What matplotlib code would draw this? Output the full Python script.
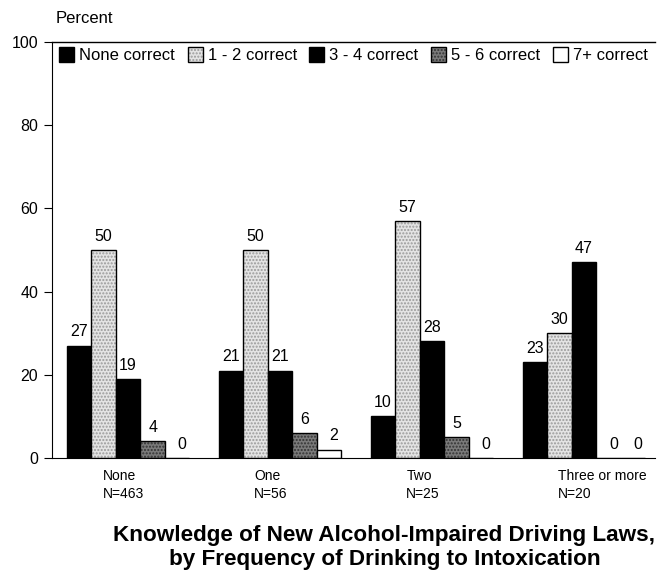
import numpy as np
import matplotlib.pyplot as plt

plt.rcParams['font.family'] = ['Liberation Sans', 'DejaVu Sans']

groups = ['None\nN=463', 'One\nN=56', 'Two\nN=25', 'Three or more\nN=20']
series = ['None correct', '1 - 2 correct', '3 - 4 correct', '5 - 6 correct', '7+ correct']
values = [
    [27, 21, 10, 23],   # None correct
    [50, 50, 57, 30],   # 1 - 2 correct
    [19, 21, 28, 47],   # 3 - 4 correct
    [4, 6, 5, 0],       # 5 - 6 correct
    [0, 2, 0, 0],       # 7+ correct
]
colors = ['black', '#e4e4e4', 'black', '#7a7a7a', 'white']
hatch_colors = [None, '#9a9a9a', None, '#333333', None]

fig = plt.figure(figsize=(6.57, 5.84), dpi=100)
ax = fig.add_axes([0.079, 0.216, 0.918, 0.712])

group_x = np.arange(len(groups)) * 6.2
handles = []
for i, name in enumerate(series):
    xs = group_x + i + 0.5
    # stipple texture first, black outline on top
    if hatch_colors[i]:
        fill = ax.bar(xs, values[i], width=1.0, color=colors[i], edgecolor=hatch_colors[i],
                      linewidth=0, hatch='.....')
        edge = ax.bar(xs, values[i], width=1.0, fill=False, edgecolor='black', linewidth=1.0)
        handles.append((fill, edge))
    else:
        b = ax.bar(xs, values[i], width=1.0, color=colors[i], edgecolor='black', linewidth=1.0)
        handles.append(b)
    for x, v in zip(xs, values[i]):
        ax.text(x + (0.2 if v < 3 else 0), v + 1.5, str(v), ha='center', va='bottom', fontsize=11.5)

ax.set_xlim(-0.61, 24.0)
ax.set_ylim(0, 100)
ax.set_yticks([0, 20, 40, 60, 80, 100])
ax.tick_params(axis='y', direction='out', length=6, labelsize=11.5, pad=4)
ax.set_xticks([])
for gx, g in zip(group_x, groups):
    ax.text(gx + 1.45, -2.8, g, ha='left', va='top', fontsize=10, linespacing=1.35)

ax.spines['right'].set_visible(False)
ax.spines['top'].set_linewidth(1.0)

ax.legend(handles, series, loc='upper center', bbox_to_anchor=(0.5, 1.0), ncol=5,
          frameon=False, fontsize=12, handlelength=0.9, handleheight=1.0,
          handletextpad=0.3, columnspacing=0.75, borderaxespad=0.0, borderpad=0.3)

fig.text(0.084, 0.968, 'Percent', fontsize=12, ha='left', va='center')
fig.text(0.585, 0.062, 'Knowledge of New Alcohol-Impaired Driving Laws,\nby Frequency of Drinking to Intoxication',
         ha='center', va='center', fontsize=16.2, fontweight='bold', linespacing=1.2)

fig.savefig('out.png', dpi=100)
